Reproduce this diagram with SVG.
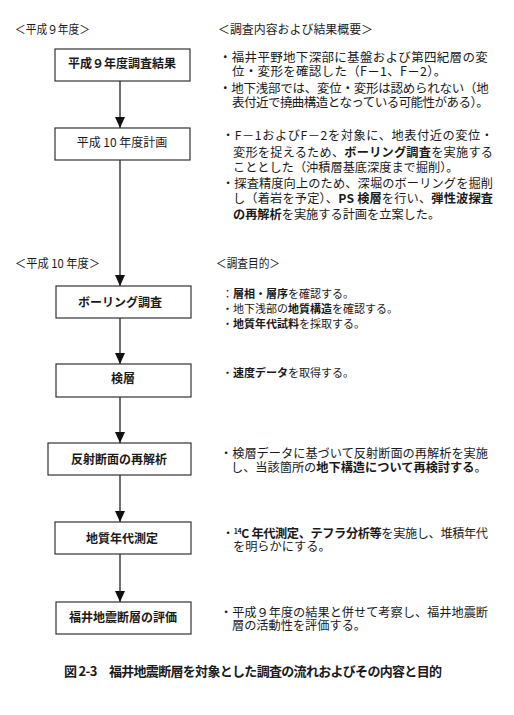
<svg xmlns="http://www.w3.org/2000/svg" width="514" height="715" viewBox="0 0 514 715">
<style>
text{font-family:"Noto Sans CJK JP","Noto Sans",sans-serif;fill:#1a1a1a}
.box{fill:#fff;stroke:#333;stroke-width:1.2}
.bt{font-size:12px;font-weight:bold;text-anchor:middle}
.h{font-size:12px}
.t1{font-size:12.5px;letter-spacing:0.3px}
.t{font-size:12.2px}
.s{font-size:11px}
.b{font-weight:bold}
.cap{font-size:13px;font-weight:bold}
.ln{stroke:#222;stroke-width:1.3;fill:none}
</style>
<defs>
<marker id="ah" viewBox="0 0 10 12" refX="10" refY="6" markerWidth="11" markerHeight="10" markerUnits="userSpaceOnUse" orient="auto" preserveAspectRatio="none">
<path d="M0,0 L10,6 L0,12 z" fill="#111"/>
</marker>
</defs>
<rect width="514" height="715" fill="#fff"/>

<g id="headers">
<text class="h" x="15" y="34" textLength="75" lengthAdjust="spacingAndGlyphs">＜平成９年度＞</text>
<text class="h" x="218" y="34" textLength="155" lengthAdjust="spacingAndGlyphs">＜調査内容および結果概要＞</text>
<text class="h" x="15" y="268" textLength="85" lengthAdjust="spacingAndGlyphs">＜平成 10 年度＞</text>
<text class="h" x="216" y="268" textLength="64" lengthAdjust="spacingAndGlyphs">＜調査目的＞</text>
</g>

<g id="connectors">
<line class="ln" x1="120" y1="81" x2="120" y2="128" marker-end="url(#ah)"/>
<line class="ln" x1="120" y1="160" x2="120" y2="286" marker-end="url(#ah)"/>
<line class="ln" x1="120" y1="318" x2="120" y2="364" marker-end="url(#ah)"/>
<line class="ln" x1="120" y1="397" x2="120" y2="443" marker-end="url(#ah)"/>
<line class="ln" x1="120" y1="475" x2="120" y2="522" marker-end="url(#ah)"/>
<line class="ln" x1="120" y1="554" x2="120" y2="602" marker-end="url(#ah)"/>
</g>

<g id="n1"><rect class="box" x="55" y="49" width="135" height="32"/><text class="bt" x="122" y="67.5">平成９年度調査結果</text></g>
<g id="n2"><rect class="box" x="55" y="128" width="135" height="32"/><text class="bt" x="122" y="146.5" style="font-weight:normal">平成 10 年度計画</text></g>
<g id="n3"><rect class="box" x="56" y="286" width="135" height="32"/><text class="bt" x="120" y="306.5">ボーリング調査</text></g>
<g id="n4"><rect class="box" x="56" y="364" width="135" height="33"/><text class="bt" x="123" y="382.5">検層</text></g>
<g id="n5"><rect class="box" x="48" y="443" width="143" height="32"/><text class="bt" x="119" y="463.5">反射断面の再解析</text></g>
<g id="n6"><rect class="box" x="55" y="522" width="136" height="32"/><text class="bt" x="122" y="542.5">地質年代測定</text></g>
<g id="n7"><rect class="box" x="56" y="602" width="135" height="32"/><text class="bt" x="123" y="621.5">福井地震断層の評価</text></g>

<g id="desc1">
<text class="t1" x="219" y="61.5" textLength="269" lengthAdjust="spacing">・福井平野地下深部に基盤および第四紀層の変</text>
<text class="t1" x="232" y="75.5">位・変形を確認した（F－1、F－2）。</text>
<text class="t1" x="219" y="92.5" textLength="270" lengthAdjust="spacing">・地下浅部では、変位・変形は認められない（地</text>
<text class="t1" x="232" y="106.5" textLength="257" lengthAdjust="spacing">表付近で撓曲構造となっている可能性がある）。</text>
</g>

<g id="desc2">
<text class="t" x="222" y="139.5" textLength="271" lengthAdjust="spacing">・F－1およびF－2を対象に、地表付近の変位・</text>
<text class="t" x="233" y="156.5" textLength="260" lengthAdjust="spacing">変形を捉えるため、<tspan class="b">ボーリング調査</tspan>を実施する</text>
<text class="t" x="233" y="171.5">こととした（沖積層基底深度まで掘削）。</text>
<text class="t" x="222" y="187.5" textLength="271" lengthAdjust="spacing">・探査精度向上のため、深堀のボーリングを掘削</text>
<text class="t" x="233" y="202.5" textLength="260" lengthAdjust="spacing">し（着岩を予定）、<tspan class="b">PS 検層</tspan>を行い、<tspan class="b">弾性波探査</tspan></text>
<text class="t" x="233" y="218.5"><tspan class="b">の再解析</tspan>を実施する計画を立案した。</text>
</g>

<g id="desc3">
<text class="s" x="222" y="298">：<tspan class="b">層相・層序</tspan>を確認する。</text>
<text class="s" x="222" y="313">・地下浅部の<tspan class="b">地質構造</tspan>を確認する。</text>
<text class="s" x="222" y="328">・<tspan class="b">地質年代試料</tspan>を採取する。</text>
</g>

<g id="desc4">
<text class="s" x="222" y="377">・<tspan class="b">速度データ</tspan>を取得する。</text>
</g>

<g id="desc5">
<text class="t" x="220" y="457.5" textLength="268" lengthAdjust="spacing">・検層データに基づいて反射断面の再解析を実施</text>
<text class="t" x="231" y="471.5">し、当該箇所の<tspan class="b">地下構造について再検討する</tspan>。</text>
</g>

<g id="desc6">
<text class="t" x="222" y="537.5" textLength="266" lengthAdjust="spacing">・<tspan class="b"><tspan font-size="7" dy="-4">14</tspan><tspan dy="4">C 年代測定、テフラ分析等</tspan></tspan>を実施し、堆積年代</text>
<text class="t" x="233" y="551">を明らかにする。</text>
</g>

<g id="desc7">
<text class="t" x="220" y="616.5" textLength="268" lengthAdjust="spacing">・平成９年度の結果と併せて考察し、福井地震断</text>
<text class="t" x="232" y="629.5">層の活動性を評価する。</text>
</g>

<g id="caption">
<text class="cap" x="64" y="675.5" textLength="378" lengthAdjust="spacing">図 2-3　福井地震断層を対象とした調査の流れおよびその内容と目的</text>
</g>
</svg>
